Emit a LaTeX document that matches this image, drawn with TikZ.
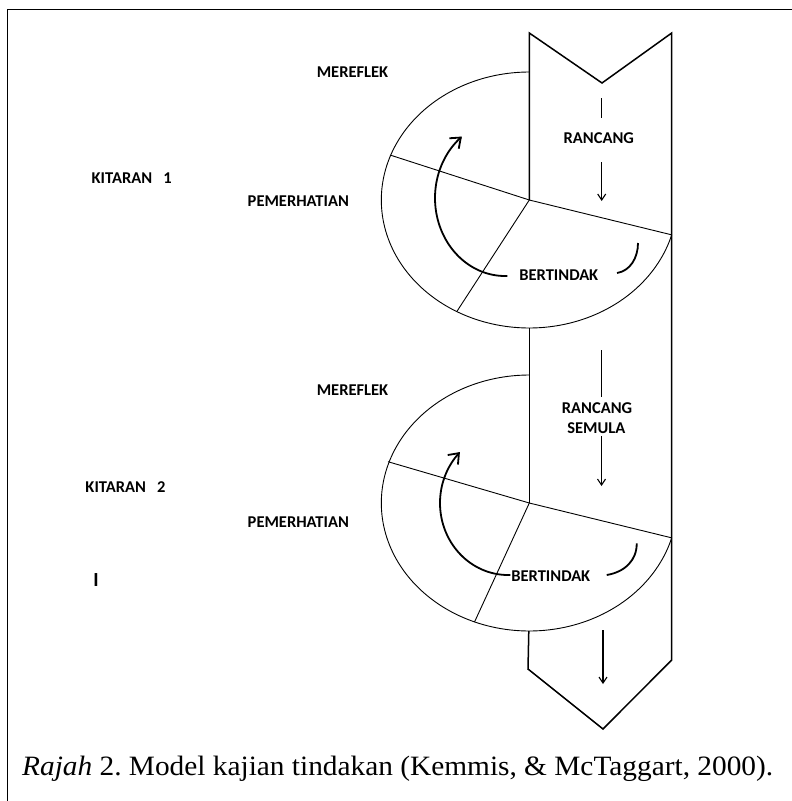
\documentclass[tikz,border=0pt]{standalone}
\usepackage{fontspec}
\setmainfont{Liberation Serif}
\newfontfamily\lblfont{Carlito}
\usetikzlibrary{arrows.meta}
\begin{document}
\begin{tikzpicture}[x=1pt,y=-1pt,
  band/.style={line width=1.5pt, line join=miter},
  ring/.style={line width=0.9pt},
  cyc/.style={line width=1.8pt},
  down/.style={line width=1.1pt, -{Straight Barb[length=6pt,width=8pt]}},
  lab/.style={font=\lblfont\bfseries\fontsize{16.5}{19}\selectfont, inner sep=0pt, align=center},
  captext/.style={font=\fontsize{28}{32}\selectfont, inner sep=0pt, anchor=base west, xscale=1.048}]
\useasboundingbox (0,0) rectangle (792,801);
% frame
\draw[line width=1pt] (7,801) -- (7,9) -- (792,9);
% hubs
\coordinate (h1) at (529.3,200);
\coordinate (h2) at (529.3,503);
\coordinate (e1r) at ({529.3+148*cos(15.8)},{200+128*sin(15.8)});
\coordinate (e2r) at ({529.3+148*cos(15.8)},{503+128*sin(15.8)});
% cycle 1 ellipse
\draw[ring] plot[domain=15.8:270, samples=150, smooth] ({529.3+148*cos(\x)},{200+128*sin(\x)});
\draw[ring] (h1) -- (390,155);
\draw[ring] (h1) -- (456.7,311.7);
\draw[ring] (h1) -- (e1r);
% cycle 2 ellipse
\draw[ring] plot[domain=15.8:270, samples=150, smooth] ({529.3+148*cos(\x)},{503+128*sin(\x)});
\draw[ring] (h2) -- (388,461.7);
\draw[ring] (h2) -- (474.5,622);
\draw[ring] (h2) -- (e2r);
% band
\draw[band] (h1) -- (529.3,33) -- (602,83) -- (671.7,33) -- (671.7,660) -- (603,729) -- (528,669) -- (528.8,631);
\draw[band] (529.3,328) -- (h2);
% curved arrows
\draw[cyc, -{Straight Barb[length=9pt,width=14pt]}] plot[domain=88:232, samples=80, smooth] ({505+70*cos(\x)},{198+78*sin(\x)});
\draw[cyc] (617,273) .. controls (630,271) and (638,258) .. (638,243);
\draw[cyc, -{Straight Barb[length=9pt,width=14pt]}] plot[domain=88:225, samples=80, smooth] ({508+68*cos(\x)},{503+72*sin(\x)});
\draw[cyc] (606.7,575) .. controls (625,572) and (637,560) .. (636.7,543.3);
% band arrows
\coordinate (a1) at (601.7,98); \coordinate (a1b) at (601.7,118);
\coordinate (a1c) at (601.7,162); \coordinate (a1d) at (601.7,201);
\draw[line width=1.1pt] (a1) -- (a1b);
\draw[down] (a1c) -- (a1d);
\coordinate (a2) at (601.5,350); \coordinate (a2b) at (601.5,397);
\coordinate (a2c) at (601.5,436); \coordinate (a2d) at (601.5,486);
\draw[line width=1.1pt] (a2) -- (a2b);
\draw[down] (a2c) -- (a2d);
\coordinate (a3) at (603,630); \coordinate (a3b) at (603,684);
\draw[down] (a3) -- (a3b);
% labels
\node[lab] (mer1) at (352.5,72) {MEREFLEK};
\node[lab] (kit1) at (131.7,177.7) {KITARAN\ \ \ 1};
\node[lab] (pem1) at (298.3,201) {PEMERHATIAN};
\node[lab] (ran1) at (598.8,137.7) {RANCANG};
\node[lab] (ber1) at (558.8,275) {BERTINDAK};
\node[lab] (mer2) at (352.5,390) {MEREFLEK};
\node[lab] (kit2) at (125.5,487.3) {KITARAN\ \ \ 2};
\node[lab] (pem2) at (298.3,521.7) {PEMERHATIAN};
\node[lab] (ran2) at (597,408) {RANCANG};
\node[lab] (sem2) at (596.3,427.7) {SEMULA};
\node[lab] (ber2) at (550.8,575.7) {BERTINDAK};
\node[lab, font=\lblfont\bfseries\fontsize{20}{22}\selectfont] (cur) at (96,580) {I};
% caption
\node[captext] (caption) at (22,775.5) {\frenchspacing\textit{Rajah} 2. Model kajian tindakan (Kemmis, \& McTaggart, 2000).};
\end{tikzpicture}
\end{document}
